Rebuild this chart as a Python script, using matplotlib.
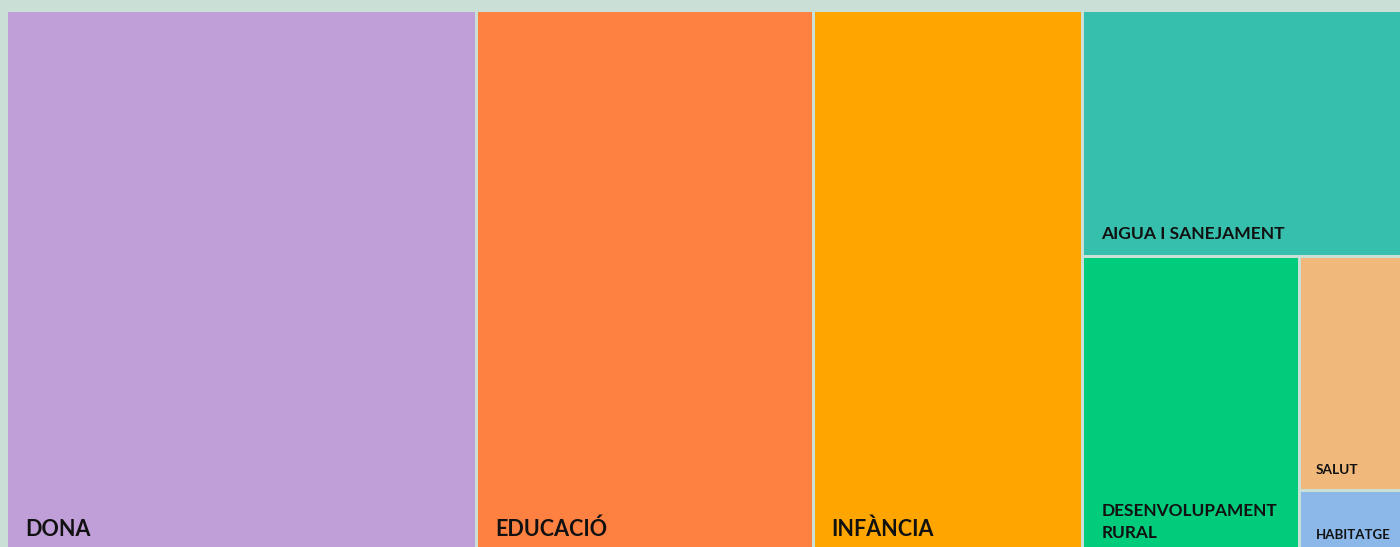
import matplotlib
matplotlib.use("Agg")
import matplotlib.pyplot as plt
from matplotlib.patches import Rectangle

# Data (relative amounts, read from tile areas)
categories = ["DONA", "EDUCACIÓ", "INFÀNCIA", "AIGUA I SANEJAMENT",
              "DESENVOLUPAMENT\nRURAL", "SALUT", "HABITATGE"]
values = [254.7, 182.4, 146.1, 77.9, 64.4, 23.8, 6.6]
colors = ["#c09ed8", "#ff8142", "#ffa500", "#37bfad", "#00cc7c", "#f0b97b", "#8bb8e8"]
font_sizes = [15.5, 15.5, 15.5, 12.6, 12.4, 9.8, 9.5]

BG = "#cadfd5"
W, H = 1400, 547


def worst(row, w):
    s = sum(row)
    return max(max(w * w * r / (s * s), (s * s) / (w * w * r)) for r in row)


def layout_row(row, x, y, dx, dy):
    s = sum(row)
    rects = []
    if dx >= dy:  # wide: column on the left
        cw = s / dy
        yy = y
        for r in row:
            h = r / cw
            rects.append((x, yy, cw, h))
            yy += h
        return rects, (x + cw, y, dx - cw, dy)
    else:  # tall: row on top
        rh = s / dx
        xx = x
        for r in row:
            w = r / rh
            rects.append((xx, y, w, rh))
            xx += w
        return rects, (x, y + rh, dx, dy - rh)


def squarify(vals, x, y, dx, dy):
    total = sum(vals)
    areas = [v * dx * dy / total for v in vals]
    rects = []
    i = 0
    while i < len(areas):
        side = min(dx, dy)
        row = [areas[i]]
        i += 1
        while i < len(areas) and worst(row + [areas[i]], side) <= worst(row, side):
            row.append(areas[i])
            i += 1
        r, (x, y, dx, dy) = layout_row(row, x, y, dx, dy)
        rects.extend(r)
    return rects


fig = plt.figure(figsize=(14, 5.47), dpi=100, facecolor=BG)
ax = fig.add_axes([0, 0, 1, 1])
ax.set_facecolor(BG)
ax.set_xlim(0, W)
ax.set_ylim(H, 0)
ax.axis("off")

rects = squarify(values, 6.5, 10.5, 1395, 545)
gap = 1.5
for (x, y, w, h), lab, c, fs in zip(rects, categories, colors, font_sizes):
    ax.add_patch(Rectangle((x + gap, y + gap), w - 2 * gap, h - 2 * gap,
                           facecolor=c, edgecolor="none"))
    fpx = fs * 100 / 72
    padx = 17 if fs >= 12 else 15
    ax.text(x + gap + padx, y + h - 13 - 0.1 * fpx, lab, fontsize=fs,
            fontfamily=["Lato", "DejaVu Sans"], fontweight="bold",
            color="#111111", ha="left", va="bottom", linespacing=1.42)

fig.savefig("out.png", dpi=100, facecolor=BG)
